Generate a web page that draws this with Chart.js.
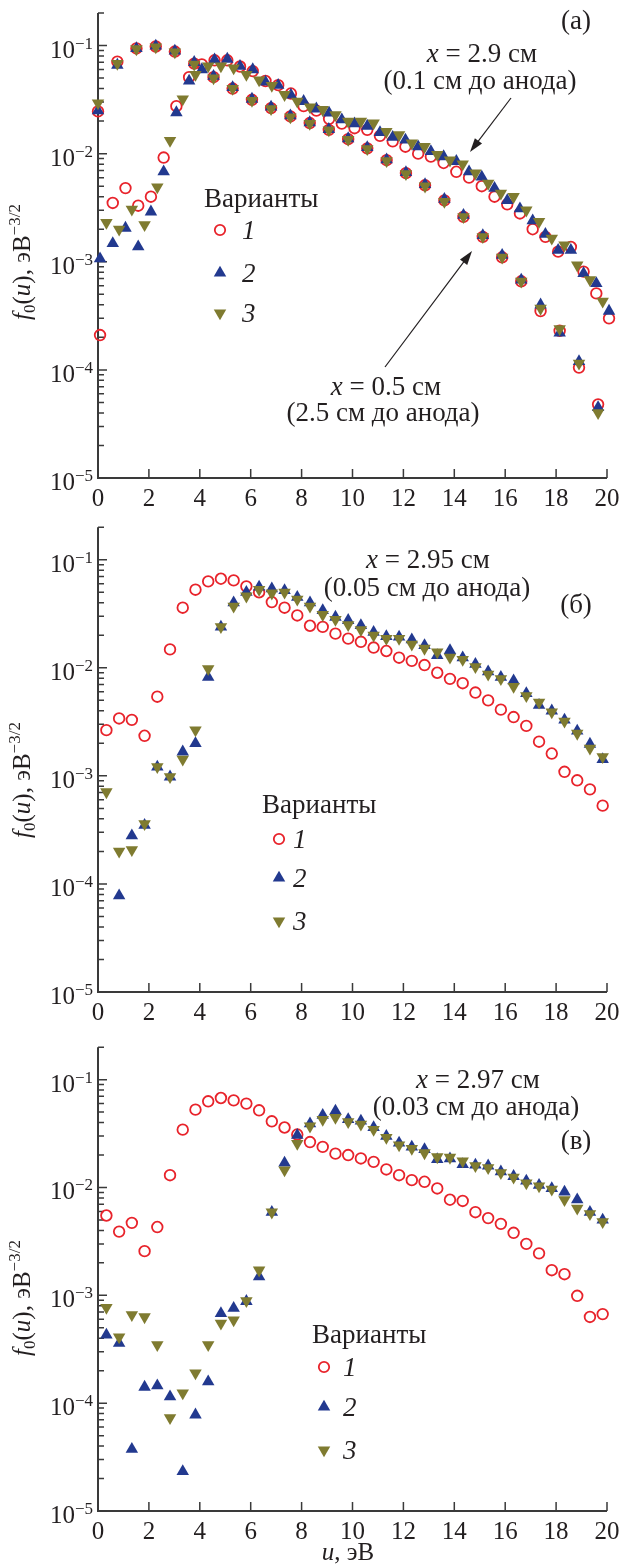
<!DOCTYPE html>
<html lang="ru">
<head>
<meta charset="utf-8">
<title>f0(u)</title>
<script src="https://cdn.jsdelivr.net/npm/chart.js"></script>
<style>
  body { margin: 0; background: #fff; }
  #wrap { position: relative; width: 635px; height: 1566px; }
  canvas { position: absolute; left: 0; }
</style>
</head>
<body>
<div id="wrap">
  <canvas id="chartA" width="635" height="520" style="top:0"></canvas>
  <canvas id="chartB" width="635" height="520" style="top:520px"></canvas>
  <canvas id="chartC" width="635" height="526" style="top:1040px"></canvas>
</div>
<script>
// energy grids, eV
var uFar = [0, 0.76, 1.51, 2.27, 3.02, 3.78, 4.54, 5.29, 6.05, 6.8, 7.56, 8.32, 9.07, 9.83, 10.58,
            11.34, 12.1, 12.85, 13.61, 14.36, 15.12, 15.88, 16.63, 17.39, 18.14, 18.9, 19.65];
var uNear = [0.08, 0.58, 1.08, 1.58, 2.08, 2.58, 3.08, 3.58, 4.08, 4.58, 5.08, 5.58, 6.08, 6.58,
             7.08, 7.58, 8.08, 8.58, 9.08, 9.58, 10.08, 10.58, 11.08, 11.58, 12.08, 12.58, 13.08,
             13.58, 14.08, 14.58, 15.08, 15.58, 16.08, 16.58, 17.08, 17.58, 18.08, 18.58, 19.08,
             19.58, 20.08];
var uGrid = [0.33, 0.83, 1.33, 1.83, 2.33, 2.83, 3.33, 3.83, 4.33, 4.83, 5.33, 5.83, 6.33, 6.83,
             7.33, 7.83, 8.33, 8.83, 9.33, 9.83, 10.33, 10.83, 11.33, 11.83, 12.33, 12.83, 13.33,
             13.83, 14.33, 14.83, 15.33, 15.83, 16.33, 16.83, 17.33, 17.83, 18.33, 18.83, 19.33,
             19.83];

// (а) x = 0.5 cm
var a05v1 = [0.0246, 0.071, 0.094, 0.098, 0.088, 0.068, 0.051, 0.040, 0.0315, 0.0264, 0.0221, 0.0192,
             0.0166, 0.0136, 0.0112, 0.0087, 0.0066, 0.0051, 0.0037, 0.0026, 0.0017, 0.0011, 0.00066,
             0.00035, 0.00023, 0.000105, 0.000048];
var a05v2 = [0.025, 0.066, 0.094, 0.099, 0.089, 0.070, 0.052, 0.041, 0.032, 0.027, 0.0225, 0.0194,
             0.0168, 0.0138, 0.0114, 0.0088, 0.0067, 0.0052, 0.0038, 0.0027, 0.00175, 0.00115, 0.00068,
             0.00040, 0.00022, 0.00012, 0.000045];
var a05v3 = [0.0294, 0.068, 0.093, 0.097, 0.087, 0.067, 0.050, 0.040, 0.031, 0.026, 0.0218, 0.019,
             0.0165, 0.0135, 0.0111, 0.0086, 0.0065, 0.005, 0.0036, 0.0026, 0.0017, 0.0011, 0.00066,
             0.00037, 0.00024, 0.000115, 0.00004];
// (а) x = 2.9 cm
var a29v1 = [0.00021, 0.0035, 0.0048, 0.0033, 0.0040, 0.0092, 0.0275, 0.051, 0.067, 0.073, 0.073,
             0.064, 0.058, 0.047, 0.043, 0.036, 0.0275, 0.025, 0.021, 0.019, 0.0172, 0.0166, 0.0146,
             0.013, 0.0116, 0.0100, 0.0094, 0.0082, 0.0068, 0.0060, 0.0050, 0.0040, 0.0034, 0.0028,
             0.0020, 0.0017, 0.00124, 0.00137, 0.00081, 0.00051, 0.00030];
var a29v2 = [0.00107, 0.00148, 0.00205, 0.00138, 0.0029, 0.0068, 0.024, 0.047, 0.060, 0.074, 0.075,
             0.0645, 0.060, 0.046, 0.043, 0.035, 0.0305, 0.026, 0.0238, 0.0206, 0.0189, 0.018, 0.0157,
             0.0142, 0.0134, 0.0116, 0.0105, 0.0094, 0.0085, 0.0068, 0.0061, 0.0048, 0.0037, 0.0031,
             0.0024, 0.0018, 0.00128, 0.00128, 0.00078, 0.00063, 0.00035];
var a29v3 = [0.0023, 0.0020, 0.00305, 0.0022, 0.0049, 0.0132, 0.032, 0.054, 0.0645, 0.0645, 0.062,
             0.054, 0.048, 0.0426, 0.0351, 0.0305, 0.027, 0.0255, 0.0229, 0.0199, 0.0199, 0.0192,
             0.016, 0.0149, 0.0125, 0.0116, 0.0098, 0.0087, 0.008, 0.0066, 0.0053, 0.0043, 0.0040,
             0.0030, 0.00235, 0.00165, 0.00143, 0.00093, 0.00068, 0.00043];
// (б) x = 2.95 cm
var b295v1 = [0.00265, 0.0034, 0.0033, 0.00235, 0.0054, 0.0148, 0.036, 0.0528, 0.063, 0.0667, 0.0644,
              0.0567, 0.050, 0.0406, 0.036, 0.0305, 0.0245, 0.0239, 0.0207, 0.0186, 0.0174, 0.0154,
              0.0143, 0.0124, 0.0116, 0.0106, 0.009, 0.0079, 0.0072, 0.0059, 0.005, 0.0041, 0.0035,
              0.0029, 0.00207, 0.00161, 0.00109, 0.00091, 0.00075, 0.00053];
var b295v2 = [null, 0.000078, 0.00028, 0.00035, 0.00121, 0.00098, 0.00167, 0.0020, 0.0082, 0.0239,
              0.040, 0.050, 0.056, 0.054, 0.052, 0.045, 0.040, 0.034, 0.0295, 0.0275, 0.0247, 0.0214,
              0.0195, 0.0193, 0.0182, 0.0161, 0.013, 0.0145, 0.0124, 0.0108, 0.0092, 0.0082, 0.0076,
              0.0058, 0.0045, 0.0040, 0.0033, 0.0026, 0.00197, 0.00142];
var b295v3 = [0.00071, 0.00020, 0.000207, 0.00036, 0.00121, 0.00098, 0.00142, 0.00265, 0.0098, 0.0239,
              0.037, 0.046, 0.053, 0.049, 0.050, 0.043, 0.037, 0.031, 0.0279, 0.025, 0.0225, 0.020,
              0.0186, 0.0186, 0.0165, 0.0151, 0.014, 0.0125, 0.0119, 0.0102, 0.0087, 0.0079, 0.0067,
              0.0055, 0.0048, 0.0039, 0.0032, 0.00247, 0.0018, 0.0015];
// (в) x = 2.97 cm
var c297v1 = [0.0055, 0.0039, 0.0047, 0.00257, 0.0043, 0.013, 0.0344, 0.0527, 0.063, 0.0676, 0.0643,
              0.060, 0.052, 0.0411, 0.036, 0.031, 0.0264, 0.0238, 0.0206, 0.020, 0.0186, 0.0173,
              0.0147, 0.013, 0.0117, 0.0113, 0.0098, 0.0077, 0.0075, 0.0059, 0.0052, 0.0046, 0.0038,
              0.0030, 0.00245, 0.00171, 0.00157, 0.00099, 0.00063, 0.00067];
var c297v2 = [0.00043, 0.00036, 0.0000375, 0.000141, 0.000145, 0.000115, 0.0000233, 0.000078, 0.000158,
              0.00068, 0.00076, 0.00088, 0.00149, 0.0059, 0.0169, 0.0305, 0.039, 0.0468, 0.0513,
              0.0427, 0.0414, 0.036, 0.0299, 0.0259, 0.0238, 0.0225, 0.0182, 0.0185, 0.0164, 0.0162,
              0.0159, 0.014, 0.0127, 0.0115, 0.0105, 0.0098, 0.0091, 0.0077, 0.0059, 0.005];
var c297v3 = [0.00077, 0.00041, 0.00066, 0.00063, 0.000347, 0.000073, 0.000124, 0.00019, 0.000347,
              0.00055, 0.00059, 0.00089, 0.00171, 0.0059, 0.0145, 0.0255, 0.037, 0.0427, 0.0445,
              0.0406, 0.0385, 0.0344, 0.029, 0.0247, 0.023, 0.0209, 0.0192, 0.019, 0.0176, 0.0159,
              0.0152, 0.0137, 0.0124, 0.011, 0.0103, 0.0096, 0.0077, 0.0064, 0.0057, 0.0048];

// axis ticks and their labels
var xTicks = [0, 2, 4, 6, 8, 10, 12, 14, 16, 18, 20];
var xTickLabels = ['0', '2', '4', '6', '8', '10', '12', '14', '16', '18', '20'];
var yDecades = [1e-5, 1e-4, 1e-3, 1e-2, 1e-1];
var yTickExp = ['\u22125', '\u22124', '\u22123', '\u22122', '\u22121'];
var legendTitle = 'Варианты';
var legendNames = ['1', '2', '3'];

var RED = '#e8232b', BLUE = '#22398f', OLIVE = '#7f7b30', INK = '#231f20', AXIS = '#3a3a3a';
var SERIF = '"Liberation Serif", "Times New Roman", serif';
function F(s) { return s + 'px ' + SERIF; }
function FI(s) { return 'italic ' + s + 'px ' + SERIF; }
var FS = 25, FT = 27, SUP = 17;

// per panel: text, legend and arrow placement (canvas coords)
var panels = {
  chartA: {
    titleY: 262,
    legend: { x: 204, y: 207, mx: 220, nx: 242, rows: [230, 273, 313] },
    notes: [
      { x: 482, y: 62, parts: [['x', FI(FT)], [' = 2.9 см', F(FT)]] },
      { x: 480, y: 89, parts: [['(0.1 см до анода)', F(FT)]] },
      { x: 576, y: 29, parts: [['(а)', F(FT)]] },
      { x: 386, y: 395, parts: [['x', FI(FT)], [' = 0.5 см', F(FT)]] },
      { x: 383, y: 421, parts: [['(2.5 см до анода)', F(FT)]] }
    ],
    arrows: [[511, 98, 470, 152], [385, 367, 472, 251]]
  },
  chartB: {
    titleY: 260,
    legend: { x: 262, y: 293, mx: 279, nx: 293, rows: [319, 358, 401] },
    notes: [
      { x: 428, y: 48, parts: [['x', FI(FT)], [' = 2.95 см', F(FT)]] },
      { x: 427, y: 76, parts: [['(0.05 см до анода)', F(FT)]] },
      { x: 576, y: 93, parts: [['(б)', F(FT)]] }
    ],
    arrows: []
  },
  chartC: {
    titleY: 258,
    legend: { x: 312, y: 303, mx: 324, nx: 343, rows: [327, 367, 410] },
    notes: [
      { x: 478, y: 48, parts: [['x', FI(FT)], [' = 2.97 см', F(FT)]] },
      { x: 476, y: 75, parts: [['(0.03 см до анода)', F(FT)]] },
      { x: 576, y: 109, parts: [['(в)', F(FT)]] },
      { x: 348, y: 520, parts: [['u', FI(FS)], [', эВ', F(FS)]] }
    ],
    arrows: []
  }
};

function richText(ctx, parts, x, y, align) {
  var w = 0;
  parts.forEach(function (p) { ctx.font = p[1]; w += ctx.measureText(p[0]).width; });
  var cx = align === 'center' ? x - w / 2 : (align === 'right' ? x - w : x);
  parts.forEach(function (p) {
    ctx.font = p[1];
    ctx.fillText(p[0], cx, y + (p[2] || 0));
    cx += ctx.measureText(p[0]).width;
  });
}

function marker(ctx, style, x, y) {
  ctx.beginPath();
  if (style === 'circle') {
    ctx.strokeStyle = RED; ctx.lineWidth = 1.8;
    ctx.arc(x, y, 5.2, 0, Math.PI * 2);
    ctx.stroke();
    return;
  }
  var r = 7.2, s = style === 'up' ? 1 : -1;
  ctx.fillStyle = style === 'up' ? BLUE : OLIVE;
  ctx.moveTo(x, y - s * r);
  ctx.lineTo(x + r * 0.866, y + s * r / 2);
  ctx.lineTo(x - r * 0.866, y + s * r / 2);
  ctx.closePath();
  ctx.fill();
}

function arrow(ctx, x1, y1, x2, y2) {
  var a = Math.atan2(y2 - y1, x2 - x1), L = 14, W = 4.5;
  ctx.strokeStyle = INK; ctx.fillStyle = INK; ctx.lineWidth = 1.2;
  ctx.beginPath(); ctx.moveTo(x1, y1); ctx.lineTo(x2 - L * 0.8 * Math.cos(a), y2 - L * 0.8 * Math.sin(a)); ctx.stroke();
  ctx.beginPath();
  ctx.moveTo(x2, y2);
  ctx.lineTo(x2 - L * Math.cos(a) + W * Math.sin(a), y2 - L * Math.sin(a) - W * Math.cos(a));
  ctx.lineTo(x2 - L * Math.cos(a) - W * Math.sin(a), y2 - L * Math.sin(a) + W * Math.cos(a));
  ctx.closePath(); ctx.fill();
}

// open frame with inward ticks, drawn under the markers
var axesUnder = {
  id: 'axesUnder',
  beforeDatasetsDraw: function (chart) {
    var ctx = chart.ctx, a = chart.chartArea, xs = chart.scales.x, ys = chart.scales.y;
    ctx.save();
    ctx.strokeStyle = AXIS; ctx.lineWidth = 2;
    ctx.beginPath();
    ctx.moveTo(a.left, a.top); ctx.lineTo(a.left, a.bottom); ctx.lineTo(a.right, a.bottom);
    ctx.stroke();
    ctx.lineWidth = 1.5;
    ctx.beginPath();
    xTicks.forEach(function (v) {
      var px = xs.getPixelForValue(v);
      ctx.moveTo(px, a.bottom); ctx.lineTo(px, a.bottom - 9);
    });
    yDecades.forEach(function (d) {
      for (var m = 1; m <= 9; m++) {
        var v = m * d;
        if (v > ys.max * 1.0001) break;
        var py = ys.getPixelForValue(v);
        ctx.moveTo(a.left, py); ctx.lineTo(a.left + (m === 1 ? 9 : 6), py);
      }
    });
    ctx.stroke();
    ctx.restore();
  }
};

// tick labels, titles, legend and notes
var decor = {
  id: 'decor',
  afterDraw: function (chart) {
    var ctx = chart.ctx, a = chart.chartArea, xs = chart.scales.x, ys = chart.scales.y;
    var p = panels[chart.canvas.id];
    ctx.save();
    ctx.fillStyle = INK;
    ctx.textBaseline = 'alphabetic';
    xTicks.forEach(function (v, i) {
      richText(ctx, [[xTickLabels[i], F(FS)]], xs.getPixelForValue(v), a.bottom + 28, 'center');
    });
    yDecades.forEach(function (v, i) {
      richText(ctx, [['10', F(FS)], [yTickExp[i], F(SUP), -9]], 93, ys.getPixelForValue(v) + 12, 'right');
    });
    // y title
    ctx.save();
    ctx.translate(22, p.titleY);
    ctx.rotate(-Math.PI / 2);
    richText(ctx, [['f', FI(FS)], ['0', F(SUP), 5], ['(', F(FS)], ['u', FI(FS)], ['), эВ', F(FS)],
                   ['\u22123/2', F(SUP), -10]], 0, 8, 'center');
    ctx.restore();
    // legend
    var L = p.legend;
    richText(ctx, [[legendTitle, F(FT)]], L.x, L.y, 'left');
    ['circle', 'up', 'down'].forEach(function (s, i) {
      marker(ctx, s, L.mx, L.rows[i]);
      ctx.fillStyle = INK;
      richText(ctx, [[legendNames[i], FI(FT)]], L.nx, L.rows[i] + 9, 'left');
    });
    p.notes.forEach(function (n) { richText(ctx, n.parts, n.x, n.y, 'center'); });
    p.arrows.forEach(function (ar) { arrow(ctx, ar[0], ar[1], ar[2], ar[3]); });
    ctx.restore();
  }
};

function series(u, v, kind) {
  var pts = [];
  u.forEach(function (x, i) { if (v[i] != null) pts.push({ x: x, y: v[i] }); });
  var ds = { data: pts, clip: false };
  if (kind === 1) {
    ds.pointStyle = 'circle'; ds.pointRadius = 5.3; ds.pointBorderWidth = 1.8;
    ds.pointBorderColor = RED; ds.pointBackgroundColor = 'rgba(0,0,0,0)'; ds.order = 3;
  } else {
    ds.pointStyle = 'triangle'; ds.pointRadius = 7.2; ds.pointBorderWidth = 0;
    ds.pointRotation = kind === 2 ? 0 : 180;
    ds.pointBackgroundColor = kind === 2 ? BLUE : OLIVE;
    ds.pointBorderColor = ds.pointBackgroundColor;
    ds.order = kind === 2 ? 2 : 1;
  }
  return ds;
}

function makeChart(id, datasets, pad) {
  return new Chart(document.getElementById(id), {
    type: 'scatter',
    data: { datasets: datasets },
    options: {
      responsive: false,
      animation: false,
      layout: { padding: pad },
      plugins: { legend: { display: false }, tooltip: { enabled: false } },
      scales: {
        x: { type: 'linear', min: 0, max: 20, display: false },
        y: { type: 'logarithmic', min: 1e-5, max: 0.2, display: false }
      }
    },
    plugins: [axesUnder, decor]
  });
}

makeChart('chartA', [
  series(uFar, a05v1, 1), series(uNear, a29v1, 1),
  series(uFar, a05v2, 2), series(uNear, a29v2, 2),
  series(uFar, a05v3, 3), series(uGrid, a29v3, 3)
], { left: 98, right: 28, top: 13, bottom: 42 });

makeChart('chartB', [
  series(uGrid, b295v1, 1), series(uGrid, b295v2, 2), series(uGrid, b295v3, 3)
], { left: 98, right: 28, top: 7, bottom: 48 });

makeChart('chartC', [
  series(uGrid, c297v1, 1), series(uGrid, c297v2, 2), series(uGrid, c297v3, 3)
], { left: 98, right: 28, top: 6, bottom: 55 });
</script>
</body>
</html>
